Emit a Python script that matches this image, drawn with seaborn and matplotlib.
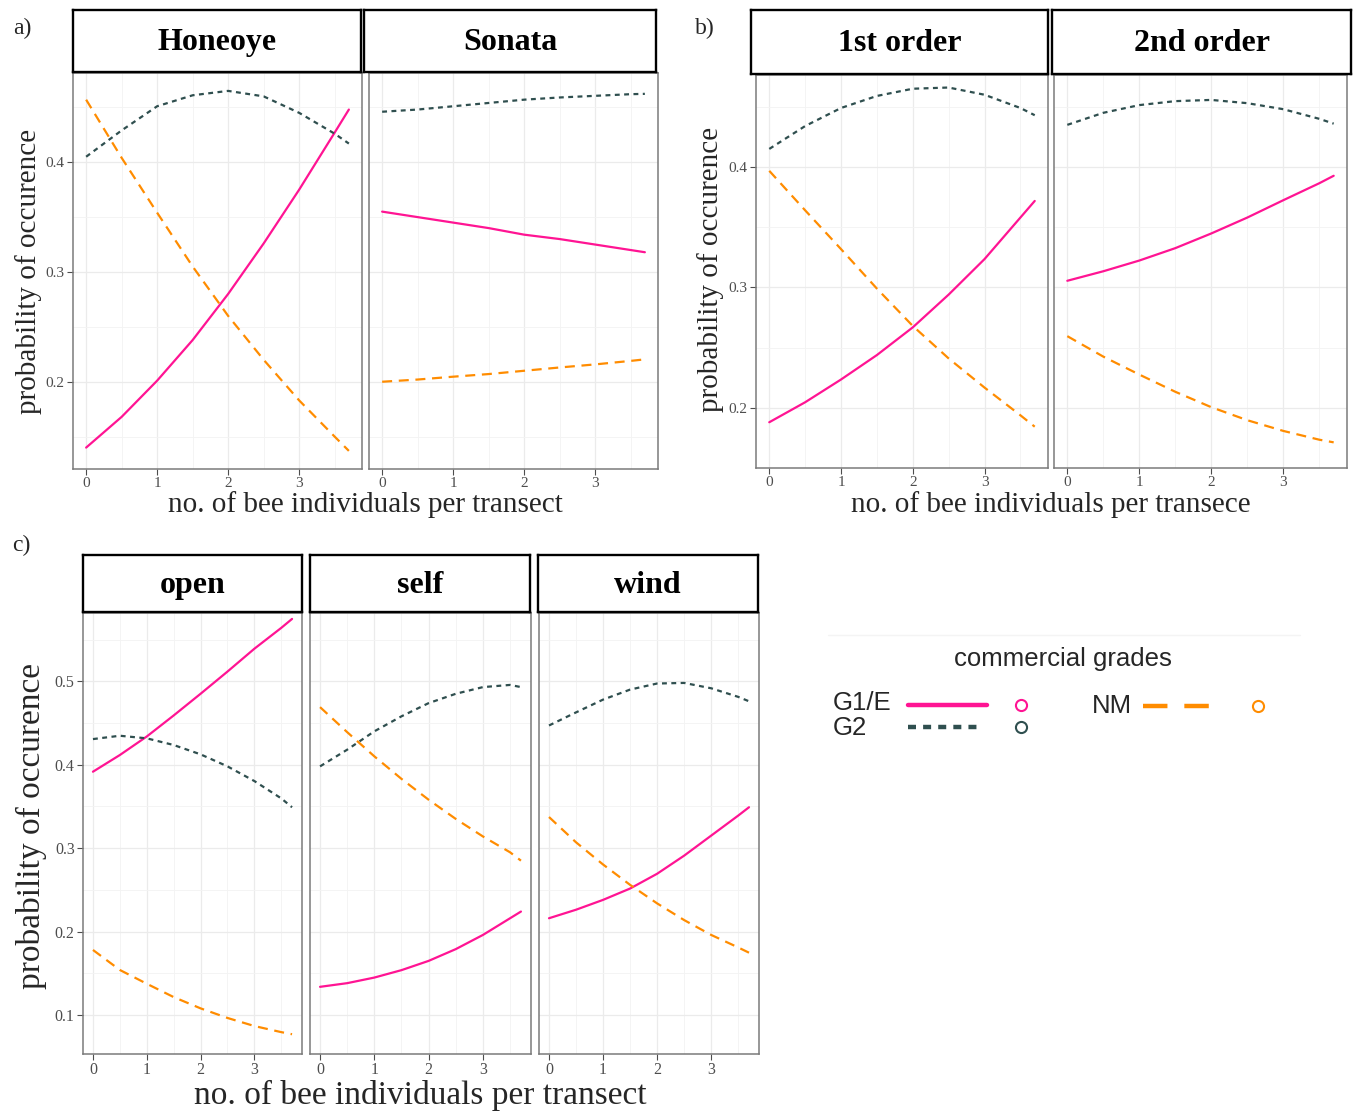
import numpy as np
import pandas as pd
import matplotlib
matplotlib.use("Agg")
import matplotlib.pyplot as plt
import seaborn as sns

# ---------------- data ----------------
x_bees = [0, 0.5, 1, 1.5, 2, 2.5, 3, 3.5, 3.7]
grades = ["G1/E", "G2", "NM"]

# a) cultivar
honeoye_g1e = [0.140, 0.168, 0.201, 0.238, 0.280, 0.326, 0.375, 0.427, 0.448]
honeoye_g2 = [0.405, 0.429, 0.451, 0.461, 0.465, 0.460, 0.445, 0.426, 0.417]
honeoye_nm = [0.457, 0.404, 0.354, 0.305, 0.260, 0.220, 0.183, 0.150, 0.137]
sonata_g1e = [0.355, 0.350, 0.345, 0.340, 0.334, 0.330, 0.325, 0.320, 0.318]
sonata_g2 = [0.446, 0.448, 0.451, 0.454, 0.457, 0.459, 0.4605, 0.462, 0.4623]
sonata_nm = [0.200, 0.202, 0.2046, 0.207, 0.210, 0.213, 0.2158, 0.219, 0.2204]

# b) flower order
first_g1e = [0.188, 0.2046, 0.2235, 0.2438, 0.2668, 0.294, 0.3235, 0.358, 0.3718]
first_g2 = [0.415, 0.434, 0.449, 0.459, 0.465, 0.466, 0.460, 0.449, 0.443]
first_nm = [0.3968, 0.364, 0.3318, 0.299, 0.268, 0.241, 0.2168, 0.1938, 0.1843]
second_g1e = [0.3055, 0.3134, 0.3223, 0.3326, 0.3448, 0.358, 0.3724, 0.3865, 0.3927]
second_g2 = [0.435, 0.445, 0.4514, 0.4547, 0.4557, 0.453, 0.448, 0.440, 0.436]
second_nm = [0.2595, 0.2425, 0.2276, 0.2133, 0.2005, 0.1897, 0.1808, 0.1735, 0.1713]

# c) pollination treatment
open_g1e = [0.3916, 0.4116, 0.4338, 0.459, 0.485, 0.5116, 0.539, 0.564, 0.5747]
open_g2 = [0.4307, 0.4347, 0.4316, 0.4236, 0.4124, 0.398, 0.3804, 0.3596, 0.349]
open_nm = [0.178, 0.154, 0.1375, 0.1215, 0.108, 0.0965, 0.0868, 0.0795, 0.077]
self_g1e = [0.1338, 0.1382, 0.1449, 0.1538, 0.1649, 0.179, 0.196, 0.216, 0.224]
self_g2 = [0.398, 0.418, 0.440, 0.458, 0.4738, 0.485, 0.493, 0.4956, 0.493]
self_nm = [0.469, 0.439, 0.410, 0.383, 0.358, 0.335, 0.314, 0.295, 0.285]
wind_g1e = [0.216, 0.2262, 0.238, 0.2516, 0.2693, 0.2910, 0.3150, 0.339, 0.349]
wind_g2 = [0.447, 0.4627, 0.478, 0.490, 0.4973, 0.498, 0.4916, 0.4813, 0.476]
wind_nm = [0.3373, 0.307, 0.2804, 0.256, 0.2338, 0.2138, 0.196, 0.181, 0.1747]

x_ticks = [0, 1, 2, 3]
x_minor = [0.5, 1.5, 2.5, 3.5]
yticks_ab = [0.2, 0.3, 0.4]
yminor_ab = [0.15, 0.25, 0.35, 0.45]
yticks_c = [0.1, 0.2, 0.3, 0.4, 0.5]
yminor_c = [0.15, 0.25, 0.35, 0.45, 0.55]

# ---------------- style ----------------
sns.set_theme(style="white")
plt.rcParams["font.family"] = ["Liberation Serif", "DejaVu Serif"]

W, H = 1356, 1111
fig = plt.figure(figsize=(W / 100, H / 100), dpi=100)
fig.patch.set_facecolor("white")

palette = {"G1/E": "#FF1493", "G2": "#2F4F4F", "NM": "#FF8C00"}
dash_map = {"G1/E": "", "G2": (2.2, 2.0), "NM": (4.5, 3.0)}


def rect(x0, y0, x1, y1):
    return [x0 / W, 1 - y1 / H, (x1 - x0) / W, (y1 - y0) / H]


def draw_facet(panel, strip, title, g1e, g2, nm, ylim, yticks, yminor,
               show_y, tick_fs=11):
    ax = fig.add_axes(rect(*panel))
    df = pd.DataFrame({
        "x": x_bees * 3,
        "prob": list(g1e) + list(g2) + list(nm),
        "grade": [g for g in grades for _ in x_bees],
    })
    sns.lineplot(data=df, x="x", y="prob", hue="grade", style="grade",
                 hue_order=grades, style_order=grades, palette=palette,
                 dashes=dash_map, linewidth=1.6, estimator=None,
                 legend=False, ax=ax)
    for ln in ax.get_lines():
        ln.set_solid_joinstyle("round")
        ln.set_dash_joinstyle("round")
    ax.set_xlim(-0.185, 3.885)
    ax.set_ylim(*ylim)
    ax.set_xticks(x_ticks)
    ax.set_xticklabels([str(t) for t in x_ticks])
    ax.set_xticks(x_minor, minor=True)
    ax.set_yticks(yticks)
    ax.set_yticklabels([f"{t:.1f}" for t in yticks])
    ax.set_yticks(yminor, minor=True)
    ax.grid(which="major", color="#EBEBEB", linewidth=0.9)
    ax.grid(which="minor", color="#F3F3F3", linewidth=0.6)
    ax.set_axisbelow(True)
    ax.set_facecolor("white")
    ax.tick_params(which="minor", length=0)
    ax.tick_params(which="major", length=4, width=0.8, color="#4D4D4D",
                   labelsize=tick_fs, labelcolor="#4D4D4D", pad=2,
                   bottom=True, left=True)
    if not show_y:
        ax.tick_params(axis="y", left=False, labelleft=False)
    for s in ax.spines.values():
        s.set_color("#7A7A7A")
        s.set_linewidth(1.1)
    ax.set_xlabel("")
    ax.set_ylabel("")

    sax = fig.add_axes(rect(*strip))
    sax.set_xticks([])
    sax.set_yticks([])
    sax.set_facecolor("white")
    for s in sax.spines.values():
        s.set_color("black")
        s.set_linewidth(1.7)
    sax.text(0.5, 0.47, title, ha="center", va="center", fontsize=23,
             fontweight="bold", color="black", transform=sax.transAxes)
    return ax


def ftext(x, y, s, **kw):
    fig.text(x / W, 1 - y / H, s, **kw)


# ---- a) ----
ylim_a = (0.1205, 0.4813)
draw_facet((73, 73, 362, 469), (73, 10, 361, 72), "Honeoye",
           honeoye_g1e, honeoye_g2, honeoye_nm, ylim_a, yticks_ab, yminor_ab, True)
draw_facet((369, 73, 658, 469), (364, 10, 656, 72), "Sonata",
           sonata_g1e, sonata_g2, sonata_nm, ylim_a, yticks_ab, yminor_ab, False)
ftext(365, 505, "no. of bee individuals per transect", ha="center", va="center", fontsize=21)
ftext(29, 271, "probability of occurence", ha="center", va="center", fontsize=21, rotation=90)
ftext(22, 28, "a)", ha="center", va="center", fontsize=17)

# ---- b) ----
ylim_b = (0.157, 0.4764)
draw_facet((756, 75, 1048, 468), (751, 10, 1048, 74), "1st order",
           first_g1e, first_g2, first_nm, ylim_b, yticks_ab, yminor_ab, True)
draw_facet((1054, 75, 1347, 468), (1052, 10, 1351, 74), "2nd order",
           second_g1e, second_g2, second_nm, ylim_b, yticks_ab, yminor_ab, False)
ftext(1051, 505, "no. of bee individuals per transece", ha="center", va="center", fontsize=21)
ftext(711, 269, "probability of occurence", ha="center", va="center", fontsize=21, rotation=90)
ftext(705, 28, "b)", ha="center", va="center", fontsize=17)

# ---- c) ----
ylim_c = (0.0533, 0.5818)
draw_facet((83, 613, 302, 1054), (83, 555, 302, 612), "open",
           open_g1e, open_g2, open_nm, ylim_c, yticks_c, yminor_c, True, 11.5)
draw_facet((310, 613, 531, 1054), (310, 555, 530, 612), "self",
           self_g1e, self_g2, self_nm, ylim_c, yticks_c, yminor_c, False, 11.5)
draw_facet((539, 613, 759, 1054), (538, 555, 758, 612), "wind",
           wind_g1e, wind_g2, wind_nm, ylim_c, yticks_c, yminor_c, False, 11.5)
ftext(420, 1095, "no. of bee individuals per transect", ha="center", va="center", fontsize=24)
ftext(31, 826, "probability of occurence", ha="center", va="center", fontsize=24, rotation=90)
ftext(21, 545, "c)", ha="center", va="center", fontsize=17)

# ---- legend (drawn in pixel coordinates) ----
lax = fig.add_axes(rect(800, 620, 1356, 760))
lax.set_xlim(800, 1356)
lax.set_ylim(760, 620)
lax.axis("off")
lax.plot([828, 1300], [635, 635], color="#F4F4F4", lw=1)
lsans = ["Liberation Sans", "DejaVu Sans"]
lax.text(1063, 659, "commercial grades", ha="center", va="center", fontsize=18.5, family=lsans)
leg_items = [
    ("G1/E", 833, 703, 908, 987, 1021, 705),
    ("G2", 833, 728, 908, 980, 1021, 727),
    ("NM", 1092, 706, 1143, 1212, 1258, 706),
]
for name, tx, ty, l0, l1, cx, cy in leg_items:
    lax.text(tx, ty, name, ha="left", va="center", fontsize=18.5, family=lsans)
    ln, = lax.plot([l0, l1], [cy, cy], color=palette[name], lw=3.2)
    if name == "G2":
        ln.set_dashes((1.8, 1.6))
    elif name == "NM":
        ln.set_dashes((5.5, 3.8))
    lax.plot([cx], [cy], marker="o", ms=8, mfc="none", mec=palette[name], mew=1.5)

fig.savefig("out.png", dpi=100, facecolor="white")
